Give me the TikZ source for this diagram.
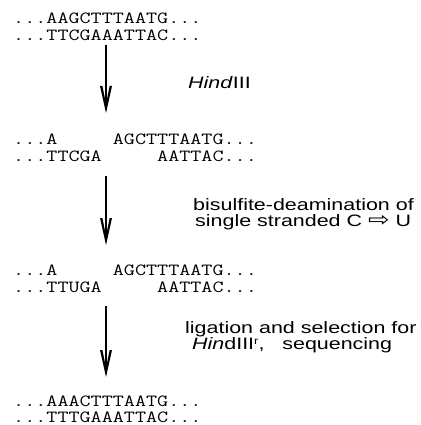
\documentclass[tikz,border=0pt]{standalone}
\usepackage{fontspec}
\setmainfont{Liberation Sans}
\newfontfamily\symfont{DejaVu Sans}
\newcommand{\gapfive}{\phantom{\mbox{AAAAA}}}
\newcommand{\seqtext}[1]{\scalebox{1.265}[1]{\ttfamily\fontsize{17}{17}\selectfont #1}}
\newcommand{\labtext}[1]{\scalebox{1.3}[1]{\fontsize{16.5}{16.5}\selectfont #1}}
\begin{document}
\begin{tikzpicture}[x=1pt,y=-1pt,
  seq/.style={anchor=base west,inner sep=0pt},
  lab/.style={anchor=base west,inner sep=0pt},
  flow/.style={line width=1.4pt},
  vhead/.style={fill=black}]
\useasboundingbox (0,0) rectangle (420,425);
% sequences
\node[seq] (s1a) at (13,24) {\seqtext{...AAGCTTTAATG...}};
\node[seq] (s1b) at (13,41) {\seqtext{...TTCGAAATTAC...}};
\node[seq] (s2a) at (13,144) {\seqtext{...A\gapfive AGCTTTAATG...}};
\node[seq] (s2b) at (13,161) {\seqtext{...TTCGA\gapfive AATTAC...}};
\node[seq] (s3a) at (13,275) {\seqtext{...A\gapfive AGCTTTAATG...}};
\node[seq] (s3b) at (13,292) {\seqtext{...TTUGA\gapfive AATTAC...}};
\node[seq] (s4a) at (13,406) {\seqtext{...AAACTTTAATG...}};
\node[seq] (s4b) at (13,422) {\seqtext{...TTTGAAATTAC...}};
% arrows
\coordinate (a1s) at (106,45);
\coordinate (a1e) at (106,113);
\coordinate (a2s) at (106,176);
\coordinate (a2e) at (106,245);
\coordinate (a3s) at (106,306);
\coordinate (a3e) at (106,377);
\foreach \s/\e in {a1s/a1e,a2s/a2e,a3s/a3e}{
  \draw[flow] (\s) -- ([yshift=3pt]\e);
  \fill[vhead,shift={(\e)}] (-6,-27) -- (0,0) -- (6,-27) -- (3.6,-27) -- (0,-9) -- (-3.6,-27) -- cycle;
}
% labels
\node[lab] (l1) at (188,89) {\labtext{\textit{Hind}III}};
\node[lab] (l2a) at (193,210) {\labtext{bisulfite-deamination of}};
\node[lab] (l2b) at (195,226) {\labtext{single stranded C \raisebox{-0.6pt}{\scalebox{1.2}{\symfont ⇨}} U}};
\node[lab] (l3a) at (185,333) {\labtext{ligation and selection for}};
\node[lab] (l3b) at (192,349) {\labtext{\textit{Hin}dIII\raisebox{5pt}{\fontsize{10}{10}\selectfont r},\ \ \ sequencing}};
\end{tikzpicture}
\end{document}
